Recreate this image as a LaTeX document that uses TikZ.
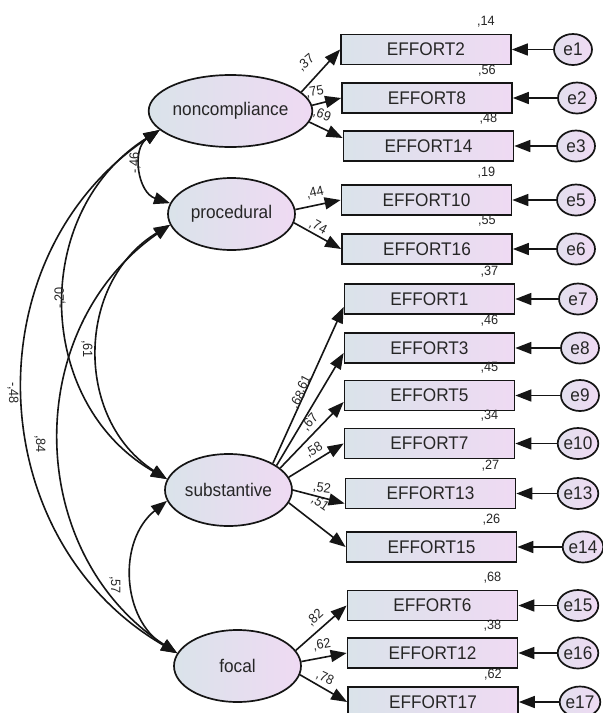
\documentclass[tikz,border=0pt]{standalone}
\usepackage{fontspec}
\setmainfont{Liberation Sans}[FakeStretch=0.94]
\usetikzlibrary{arrows.meta,shapes.geometric}

\definecolor{ink}{HTML}{151515}
\definecolor{txt}{HTML}{262626}
\definecolor{shadeL}{HTML}{DAE3EA}
\definecolor{shadeR}{HTML}{EFDAF3}

\begin{document}
\begin{tikzpicture}[x=1pt,y=-1pt,
  bigfont/.style={font=\fontsize{18.3}{21}\selectfont},
  latent/.style={ellipse, draw=ink, line width=1.7pt, left color=shadeL, right color=shadeR,
    minimum width=127pt, minimum height=72pt, inner sep=0pt, bigfont, text=txt},
  obs/.style={rectangle, draw=ink, line width=1.7pt, left color=shadeL, right color=shadeR,
    minimum width=170pt, minimum height=30pt, inner sep=0pt, bigfont, text=txt},
  err/.style={ellipse, draw=ink, line width=1.7pt, left color=shadeL!60!shadeR, right color=shadeR,
    minimum width=38pt, minimum height=31pt, inner sep=0pt, bigfont, text=txt},
  val/.style={font=\fontsize{13.5}{15}\selectfont, text=txt, inner sep=0pt},
  tipA/.tip={Triangle[length=16pt,width=12pt]},
  arr/.style={draw=ink, line width=1.6pt, -tipA},
  cov/.style={draw=ink, line width=1.6pt, tipA-tipA},
]
\clip (0,0) rectangle (603,713);
\fill[white] (0,0) rectangle (603,713);

% latent factors
\node[latent] (nonc)  at (230.5,111) {noncompliance};
\node[latent] (proc)  at (231.5,214) {procedural};
\node[latent] (subst) at (228.5,490) {substantive};
\node[latent] (focal) at (237.5,666) {focal};

% indicators
\node[obs] (E2)  at (426,49.5)  {EFFORT2};
\node[obs] (E8)  at (427,98)    {EFFORT8};
\node[obs] (E14) at (428.5,146) {EFFORT14};
\node[obs] (E10) at (426.5,200) {EFFORT10};
\node[obs] (E16) at (427,249)   {EFFORT16};
\node[obs] (E1)  at (429.5,299) {EFFORT1};
\node[obs] (E3)  at (429.5,348) {EFFORT3};
\node[obs] (E5)  at (429.5,395.5) {EFFORT5};
\node[obs] (E7)  at (429.5,443.5) {EFFORT7};
\node[obs] (E13) at (430.5,493.5) {EFFORT13};
\node[obs] (E15) at (431.5,547) {EFFORT15};
\node[obs] (E6)  at (432.5,605.5) {EFFORT6};
\node[obs] (E12) at (432.5,653) {EFFORT12};
\node[obs] (E17) at (433,702)   {EFFORT17};

% error terms
\node[err] (e1)  at (573,49.5)  {e1};
\node[err] (e2)  at (577,98)    {e2};
\node[err] (e3)  at (576,146)   {e3};
\node[err] (e5)  at (576,200)   {e5};
\node[err] (e6)  at (576,249)   {e6};
\node[err] (e7)  at (578,299)   {e7};
\node[err] (e8)  at (580,348)   {e8};
\node[err] (e9)  at (580,395.5) {e9};
\node[err] (e10) at (578,443.5) {e10};
\node[err] (e13) at (578,493.5) {e13};
\node[err] (e14) at (583,547)   {e14};
\node[err] (e15) at (578,605.5) {e15};
\node[err] (e16) at (578,653)   {e16};
\node[err] (e17) at (580,702)   {e17};

% error paths
\foreach \e/\b in {e1/E2,e2/E8,e3/E14,e5/E10,e6/E16,e7/E1,e8/E3,e9/E5,e10/E7,e13/E13,e14/E15,e15/E6,e16/E12,e17/E17}
  \draw[arr] (\e) -- (\b);

% squared multiple correlations
\foreach \b/\v in {E2/{,14},E8/{,56},E14/{,48},E10/{,19},E16/{,55},E1/{,37},E3/{,46},E5/{,45},E7/{,34},E13/{,27},E15/{,26},E6/{,68},E12/{,38},E17/{,62}}
  \node[val] (r\b) at ([xshift=-26pt,yshift=12pt]\b.north east) {\v};

% loadings
\draw[arr] (nonc.15)  -- (E2.west);
\draw[arr] (nonc.4)   -- (E8.west);
\draw[arr] (nonc.-8)  -- ([yshift=8pt]E14.west);
\draw[arr] (proc.4)   -- (E10.west);
\draw[arr] (proc.-8)  -- (E16.west);
\draw[arr] (subst.31) -- ([yshift=-8pt]E1.west);
\draw[arr] (subst.27) -- ([yshift=-5pt]E3.west);
\draw[arr] (subst.23) -- ([yshift=-6.5pt]E5.west);
\draw[arr] (subst.12) -- (E7.west);
\draw[arr] (subst.0)  -- ([yshift=-10pt]E13.west);
\draw[arr] (subst.-12) -- (E15.west);
\draw[arr] (focal.15) -- (E6.west);
\draw[arr] (focal.4)  -- (E12.west);
\draw[arr] (focal.-8) -- (E17.west);

\node[val, rotate=40]  (l2)  at (306,63)  {,37};
\node[val, rotate=10]  (l8)  at (315,92)  {,75};
\node[val, rotate=-20] (l14) at (322,115) {,69};
\node[val, rotate=13]  (l10) at (315,193) {,44};
\node[val, rotate=-28] (l16) at (318,227) {,74};
\node[val, rotate=62]  (l1)  at (304,384) {,61};
\node[val, rotate=58]  (l3)  at (298,400) {,68};
\node[val, rotate=48]  (l5)  at (310,422) {,67};
\node[val, rotate=32]  (l7)  at (314,450) {,58};
\node[val, rotate=-8]  (l13) at (322,488) {,52};
\node[val, rotate=-35] (l15) at (320,503) {,51};
\node[val, rotate=42]  (l6)  at (315,618) {,82};
\node[val, rotate=10]  (l12) at (322,645) {,62};
\node[val, rotate=-25] (l17) at (325,678) {,78};

% factor covariances
\draw[cov] (nonc.195)  to[bend right=64, looseness=1.18] (proc.170);
\draw[cov] (nonc.195)  to[bend right=59, looseness=1.12] (subst.170);
\draw[cov] (nonc.195)  to[bend right=58, looseness=1.11] (focal.168);
\draw[cov] (proc.190)  to[bend right=58, looseness=1.11] (subst.170);
\draw[cov] (proc.190)  to[bend right=56, looseness=1.09] (focal.168);
\draw[cov] (subst.190) to[bend right=55, looseness=1.08] (focal.168);

\node[val, rotate=90]  (c1) at (135,163) {-,46};
\node[val, rotate=90]  (c2) at (60,298)  {-,20};
\node[val, rotate=-90] (c3) at (13,393)  {-,48};
\node[val, rotate=-90] (c4) at (87,349)  {,61};
\node[val, rotate=-90] (c5) at (40,444)  {,84};
\node[val, rotate=-90] (c6) at (115,585) {,57};
\end{tikzpicture}
\end{document}
